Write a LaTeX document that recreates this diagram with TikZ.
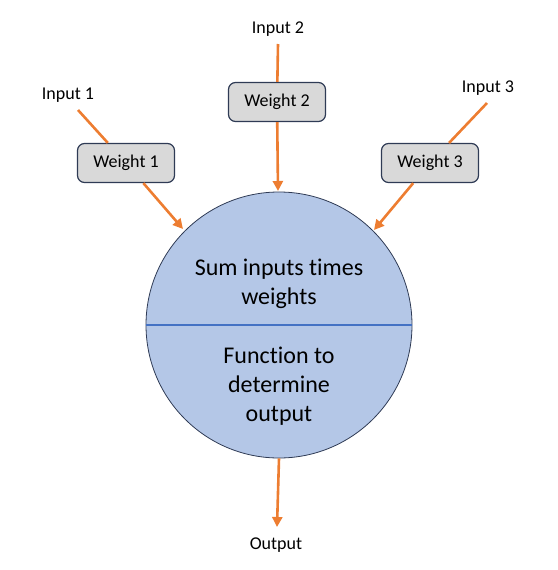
\documentclass[tikz,border=0pt]{standalone}
\usepackage{fontspec}
\setmainfont{Carlito}[Ligatures=NoCommon]
\usetikzlibrary{arrows.meta}
\definecolor{boxgray}{HTML}{D9D9D9}
\definecolor{boxline}{HTML}{2F3B55}
\definecolor{cellblue}{HTML}{B4C7E7}
\definecolor{splitblue}{HTML}{4472C4}
\definecolor{wireorange}{HTML}{ED7D31}
\begin{document}
\begin{tikzpicture}[x=1pt,y=-1pt,
    weight/.style={rectangle,draw=boxline,line width=1.2pt,fill=boxgray,minimum width=97pt,minimum height=39pt,rounded corners=7pt,font=\fontsize{18}{22}\selectfont},
    label/.style={inner sep=0pt,font=\fontsize{18}{22}\selectfont},
    celltext/.style={align=center,inner sep=0pt,font=\fontsize{24}{29}\selectfont},
    wire/.style={wireorange,line width=2.6pt},
    arrow/.style={wire,-{Triangle[length=10pt,width=10pt]}}]
    \useasboundingbox (0,0) rectangle (557,570);
    % neuron body
    \node[circle,draw=boxline,line width=0.8pt,fill=cellblue,minimum size=266pt,inner sep=0pt] (neuron) at (279,325) {};
    \draw[splitblue,line width=2.8pt] (neuron.west) -- (neuron.east);
    \node[celltext] (sum)  at (279,284) {Sum inputs times\\weights};
    \node[celltext] (func) at (279,386) {Function to\\determine\\output};
    % inputs and weights
    \node[label]  (in1) at (68,95)   {Input 1};
    \node[label]  (in2) at (278,29)  {Input 2};
    \node[label]  (in3) at (488,88)  {Input 3};
    \node[weight] (w1)  at (126,163) {Weight 1};
    \node[weight] (w2)  at (277,102) {Weight 2};
    \node[weight] (w3)  at (430,163) {Weight 3};
    \node[label]  (out) at (276,545) {Output};
    \coordinate (s1) at (78,110);
    \coordinate (s2) at (278,44);
    \coordinate (s3) at (487,103);
    \coordinate (t1) at (183,229);
    \coordinate (t2) at (278,191);
    \coordinate (t3) at (374,230);
    \coordinate (t4) at (277,527);
    \draw[wire]  (s1) -- (w1);
    \draw[arrow] (w1) -- (t1);
    \draw[wire]  (s2) -- (w2);
    \draw[arrow] (w2) -- (t2);
    \draw[wire]  (s3) -- (w3);
    \draw[arrow] (w3) -- (t3);
    \draw[arrow] (neuron.south) -- (t4);
\end{tikzpicture}
\end{document}
